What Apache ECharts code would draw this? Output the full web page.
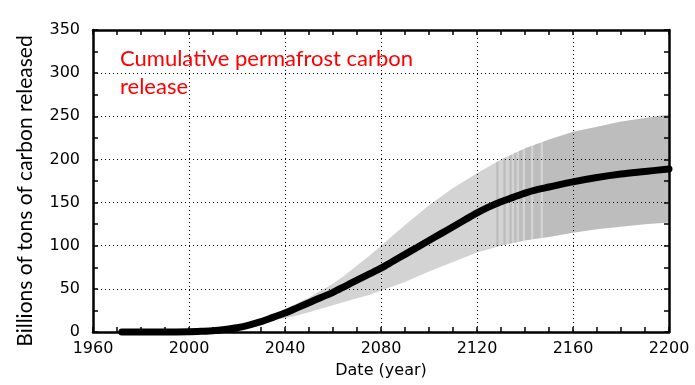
<!DOCTYPE html>
<html>
<head>
<meta charset="utf-8">
<script src="https://cdn.jsdelivr.net/npm/echarts@6/dist/echarts.min.js"></script>
<style>
html,body{margin:0;padding:0;background:#fff;}
#chart{width:695px;height:385px;}
</style>
</head>
<body>
<div id="chart"></div>
<script>
// ---- data ----
var years = [1972,1980,1990,2000,2005,2010,2015,2020,2025,2030,2035,2040,2045,2050,2055,2060,2065,2070,2075,2080,2085,2090,2095,2100,2105,2110,2115,2120,2125,2130,2135,2140,2145,2150,2160,2170,2180,2190,2200];
var meanRelease = [0,0,0,0.3,0.8,1.5,3,5,8,12,17,22,28,34,40,46,53,60,67,74,82,90,98,106,114,122,130,138,145,151,156,161,165,168,174,179,183,186,189];
var bandYears = [2030,2035,2040,2045,2050,2055,2060,2065,2070,2075,2080,2090,2100,2110,2120,2130,2140,2150,2160,2170,2180,2190,2200];
var bandUpper = [12,19,27,33,40,48,56,66,77,88,100,124,147,167,184,200,213,223,232,238,244,248,252];
var bandLower = [12,15,16,19,23,27,31,35,39,43,48,58,70,81,92,100,106,110,115,119,122,125,127];
// year ranges where the band is drawn in the darker grey
var darkRanges = [[2128,2129],[2131,2132],[2133.5,2134.5],[2135.5,2136.5],[2137.5,2139],[2140,2142.5],[2143.5,2146.5],[2147.5,2200]];
var xTicks = [1960,2000,2040,2080,2120,2160,2200];
var yTicks = [0,50,100,150,200,250,300,350];

// ---- build ----
function pairs(xs, ys){
  var out=[];
  for(var i=0;i<xs.length;i++){ out.push([xs[i], ys[i]]); }
  return out;
}
var bandData = bandYears.map(function(y,i){return [y, bandLower[i], bandUpper[i]];});

function edgePoints(api){
  var top=[], bot=[];
  for(var i=0;i<bandData.length;i++){
    top.push(api.coord([bandData[i][0], bandData[i][2]]));
    bot.push(api.coord([bandData[i][0], bandData[i][1]]));
  }
  return {top:top, bot:bot};
}
function edgeAt(pts, px){
  for(var i=0;i<pts.length-1;i++){
    if(px>=pts[i][0] && px<=pts[i+1][0]){
      var t=(px-pts[i][0])/((pts[i+1][0]-pts[i][0])||1);
      return [px, pts[i][1]+t*(pts[i+1][1]-pts[i][1])];
    }
  }
  return pts[pts.length-1].slice();
}
function segment(pts, a, b){
  var out=[edgeAt(pts,a)];
  for(var i=0;i<pts.length;i++){ if(pts[i][0]>a && pts[i][0]<b) out.push(pts[i]); }
  out.push(edgeAt(pts,b));
  return out;
}

var lightBand = {
  type:'custom', data:bandData, silent:true, z:1, encode:{x:0, y:[1,2]},
  renderItem:function(params, api){
    if(params.dataIndex!==0) return null;
    var e=edgePoints(api);
    return {type:'polygon', shape:{points:e.top.concat(e.bot.slice().reverse())},
      style:{fill:'rgba(0,0,0,0.172)', stroke:null}};
  }
};
var darkBand = {
  type:'custom', data:bandData, silent:true, z:2, encode:{x:0, y:[1,2]},
  renderItem:function(params, api){
    if(params.dataIndex!==0) return null;
    var e=edgePoints(api);
    var children=darkRanges.map(function(r){
      var a=api.coord([r[0],0])[0], b=api.coord([r[1],0])[0];
      var t=segment(e.top,a,b), bo=segment(e.bot,a,b);
      return {type:'polygon', shape:{points:t.concat(bo.reverse())},
        style:{fill:'rgba(0,0,0,0.106)', stroke:null}};
    });
    return {type:'group', children:children};
  }
};

var tickFont = {fontFamily:'DejaVu Sans', fontSize:16, color:'#000'};
var fmt = function(v){return String(v);};

var chart = echarts.init(document.getElementById('chart'), null, {renderer:'canvas'});
var option = {
  animation:false,
  grid:{left:93, top:30, right:26, bottom:53, containLabel:false},
  xAxis:[{
    type:'value', min:xTicks[0], max:xTicks[xTicks.length-1], interval:40,
    name:'Date (year)', nameLocation:'middle', nameGap:31,
    nameTextStyle:{fontFamily:'DejaVu Sans', fontSize:16, color:'#000'},
    axisLine:{show:true, onZero:false, lineStyle:{color:'#000', width:2.5}},
    axisTick:{show:true, inside:true, length:5, lineStyle:{color:'#000', width:1.5}},
    minorTick:{show:true, splitNumber:4, length:5, lineStyle:{color:'#000', width:1.5}},
    axisLabel:Object.assign({margin:9, formatter:fmt}, tickFont),
    splitLine:{show:true, lineStyle:{color:'#000', type:[1,3], width:1}}
  },{
    type:'value', position:'top', min:xTicks[0], max:xTicks[xTicks.length-1], interval:40,
    axisLine:{show:true, onZero:false, lineStyle:{color:'#000', width:2.5}},
    axisTick:{show:true, inside:true, length:5, lineStyle:{color:'#000', width:1.5}},
    minorTick:{show:true, splitNumber:4, length:5, lineStyle:{color:'#000', width:1.5}},
    axisLabel:{show:false}, splitLine:{show:false}
  }],
  yAxis:[{
    type:'value', min:yTicks[0], max:yTicks[yTicks.length-1], interval:50,
    axisLine:{show:true, onZero:false, lineStyle:{color:'#000', width:2.5}},
    axisTick:{show:true, inside:true, length:5, lineStyle:{color:'#000', width:1.5}},
    minorTick:{show:true, splitNumber:2, length:5, lineStyle:{color:'#000', width:1.5}},
    axisLabel:Object.assign({margin:13, formatter:fmt}, tickFont),
    splitLine:{show:true, lineStyle:{color:'#000', type:[1,3], width:1}}
  },{
    type:'value', position:'right', min:yTicks[0], max:yTicks[yTicks.length-1], interval:50,
    axisLine:{show:true, onZero:false, lineStyle:{color:'#000', width:2.5}},
    axisTick:{show:true, inside:true, length:5, lineStyle:{color:'#000', width:1.5}},
    minorTick:{show:true, splitNumber:2, length:5, lineStyle:{color:'#000', width:1.5}},
    axisLabel:{show:false}, splitLine:{show:false}
  }],
  graphic:[{
    type:'text', left:120, top:45, silent:true,
    style:{text:'Cumulative permafrost carbon\nrelease', fill:'#ff0000',
      font:'22px Lato', lineHeight:28}
  },{
    type:'text', x:25, y:191, rotation:Math.PI/2, silent:true,
    style:{text:'Billions of tons of carbon released', fill:'#000',
      font:'21px Lato', align:'center', verticalAlign:'middle'}
  }],
  series: [
    lightBand,
    darkBand,
    {type:'line', data:pairs(years,meanRelease), symbol:'none',
      smooth:0.3, clip:false, z:5,
      lineStyle:{color:'#000', width:7, cap:'round', join:'round'}}
  ]
};
chart.setOption(option);
</script>
</body>
</html>
